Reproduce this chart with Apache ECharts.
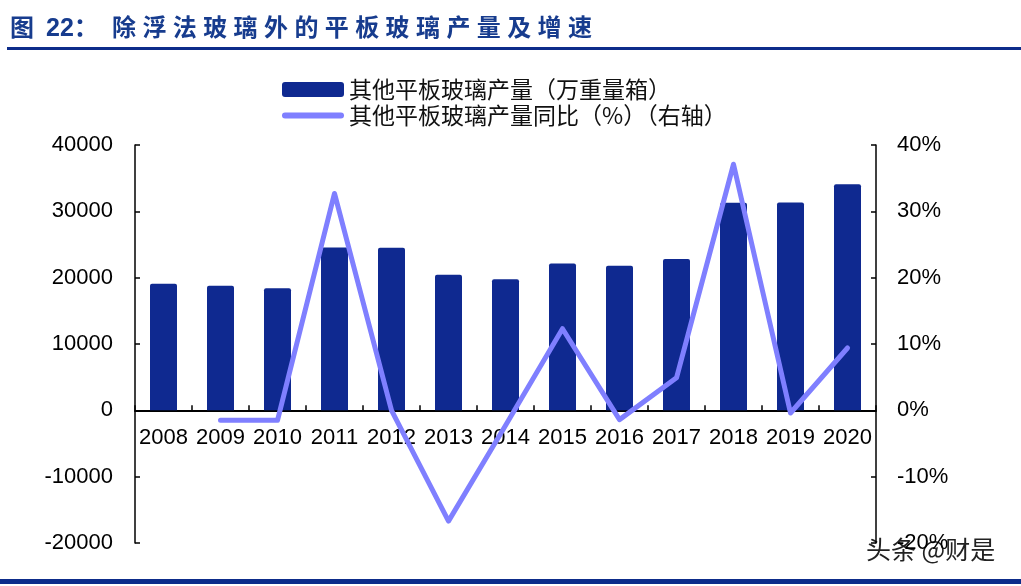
<!DOCTYPE html>
<html>
<head>
<meta charset="utf-8">
<script src="https://cdn.jsdelivr.net/npm/echarts@6/dist/echarts.min.js"></script>
<style>
html,body{margin:0;padding:0;background:#fff;}
#c{width:1021px;height:586px;}
</style>
</head>
<body>
<div id="c"></div>
<script>
var categories = ['2008','2009','2010','2011','2012','2013','2014','2015','2016','2017','2018','2019','2020'];
var output = [19100, 18800, 18400, 24550, 24500, 20450, 19750, 22150, 21800, 22800, 31300, 31350, 34100];
var yoy = [null, -1.5, -1.5, 32.7, 0.0, -16.7, -2.3, 12.3, -1.4, 4.9, 37.1, -0.4, 9.4];
var leftTicks = {min: -20000, max: 40000, interval: 10000};
var rightTicks = {min: -20, max: 40, interval: 10};
var barName = '其他平板玻璃产量（万重量箱）';
var lineName = '其他平板玻璃产量同比（%）（右轴）';
var titleLead = ['图', '22：'];
var titleBody = '除浮法玻璃外的平板玻璃产量及增速';

var FONT = '"Liberation Sans", Arial, "Noto Sans CJK SC", sans-serif';
var TITLE_COLOR = '#173c8e';
var TITLE_FONT = '"Liberation Sans", "Noto Sans CJK SC", sans-serif';

var GRID = {left: 135, right: 145, top: 145, bottom: 43};
var CHART_H = 586;
// distance from grid bottom to the zero line of the left axis
var zeroOffset = (CHART_H - GRID.top - GRID.bottom) * (0 - leftTicks.min) / (leftTicks.max - leftTicks.min);

var graphics = [
  {type: 'rect', shape: {x: 7, y: 47, width: 1014, height: 3}, style: {fill: '#0d2c8a'}},
  {type: 'rect', shape: {x: 0, y: 579, width: 1021, height: 5}, style: {fill: '#0d2c8a'}},
  {type: 'text', x: 866, y: 537, style: {text: '头条 @财是', fontSize: 25, fill: '#222', stroke: '#fff', lineWidth: 2, fontFamily: '"Noto Sans CJK SC", sans-serif'}},
  {type: 'text', x: 10, y: 17, style: {text: titleLead[0], fontSize: 24, fontWeight: 'bold', fill: TITLE_COLOR, fontFamily: TITLE_FONT}},
  {type: 'text', x: 46, y: 17, style: {text: titleLead[1], fontSize: 25, fontWeight: 'bold', fill: TITLE_COLOR, fontFamily: TITLE_FONT}}
];
for (var i = 0; i < titleBody.length; i++) {
  graphics.push({type: 'text', x: 112 + i * 30.4, y: 17,
    style: {text: titleBody[i], fontSize: 24, fontWeight: 'bold', fill: TITLE_COLOR, fontFamily: TITLE_FONT}});
}

var chart = echarts.init(document.getElementById('c'));
chart.setOption({
  backgroundColor: '#fff',
  animation: false,
  graphic: graphics,
  legend: {
    orient: 'vertical',
    left: 282, top: 78, padding: 0,
    itemWidth: 62, itemHeight: 15, itemGap: 3,
    textStyle: {fontSize: 23, color: '#111', fontFamily: '"Noto Sans CJK SC", sans-serif'},
    data: [
      {name: barName, icon: 'path://M3,0 L59,0 Q62,0 62,3 L62,12 Q62,15 59,15 L3,15 Q0,15 0,12 L0,3 Q0,0 3,0 Z'},
      {name: lineName, icon: 'path://M3,0 L59,0 A3,3 0 0 1 59,6 L3,6 A3,3 0 0 1 3,0 Z'}
    ]
  },
  grid: {left: GRID.left, right: GRID.right, top: GRID.top, bottom: GRID.bottom, containLabel: false},
  xAxis: {
    type: 'category',
    data: categories,
    position: 'bottom',
    offset: -zeroOffset,
    axisLine: {onZero: false, lineStyle: {color: '#000', width: 2}},
    axisTick: {show: true, inside: true, length: 5, lineStyle: {color: '#000', width: 1.5}},
    axisLabel: {interval: 0, margin: 17, fontSize: 22, color: '#000', fontFamily: FONT}
  },
  yAxis: [
    {
      type: 'value', min: leftTicks.min, max: leftTicks.max, interval: leftTicks.interval,
      axisLine: {show: true, lineStyle: {color: '#000', width: 1.5}},
      axisTick: {show: true, inside: true, length: 5, lineStyle: {color: '#000', width: 1.5}},
      splitLine: {show: false},
      axisLabel: {margin: 22, fontSize: 22, color: '#000', fontFamily: FONT, formatter: function (v) { return String(v); }}
    },
    {
      type: 'value', min: rightTicks.min, max: rightTicks.max, interval: rightTicks.interval,
      position: 'right',
      axisLine: {show: true, lineStyle: {color: '#000', width: 1.5}},
      axisTick: {show: true, inside: true, length: 5, lineStyle: {color: '#000', width: 1.5}},
      splitLine: {show: false},
      axisLabel: {margin: 21, fontSize: 22, color: '#000', fontFamily: FONT, formatter: function (v) { return v + '%'; }}
    }
  ],
  series: [
    {
      name: barName, type: 'bar', data: output, barWidth: 27, yAxisIndex: 0,
      itemStyle: {color: '#0f2990', borderRadius: [2, 2, 0, 0]}
    },
    {
      name: lineName, type: 'line', data: yoy, yAxisIndex: 1,
      symbol: 'none', connectNulls: false,
      lineStyle: {color: '#7f7fff', width: 5, cap: 'round', join: 'round'},
      itemStyle: {color: '#7f7fff'}
    }
  ]
});
</script>
</body>
</html>
